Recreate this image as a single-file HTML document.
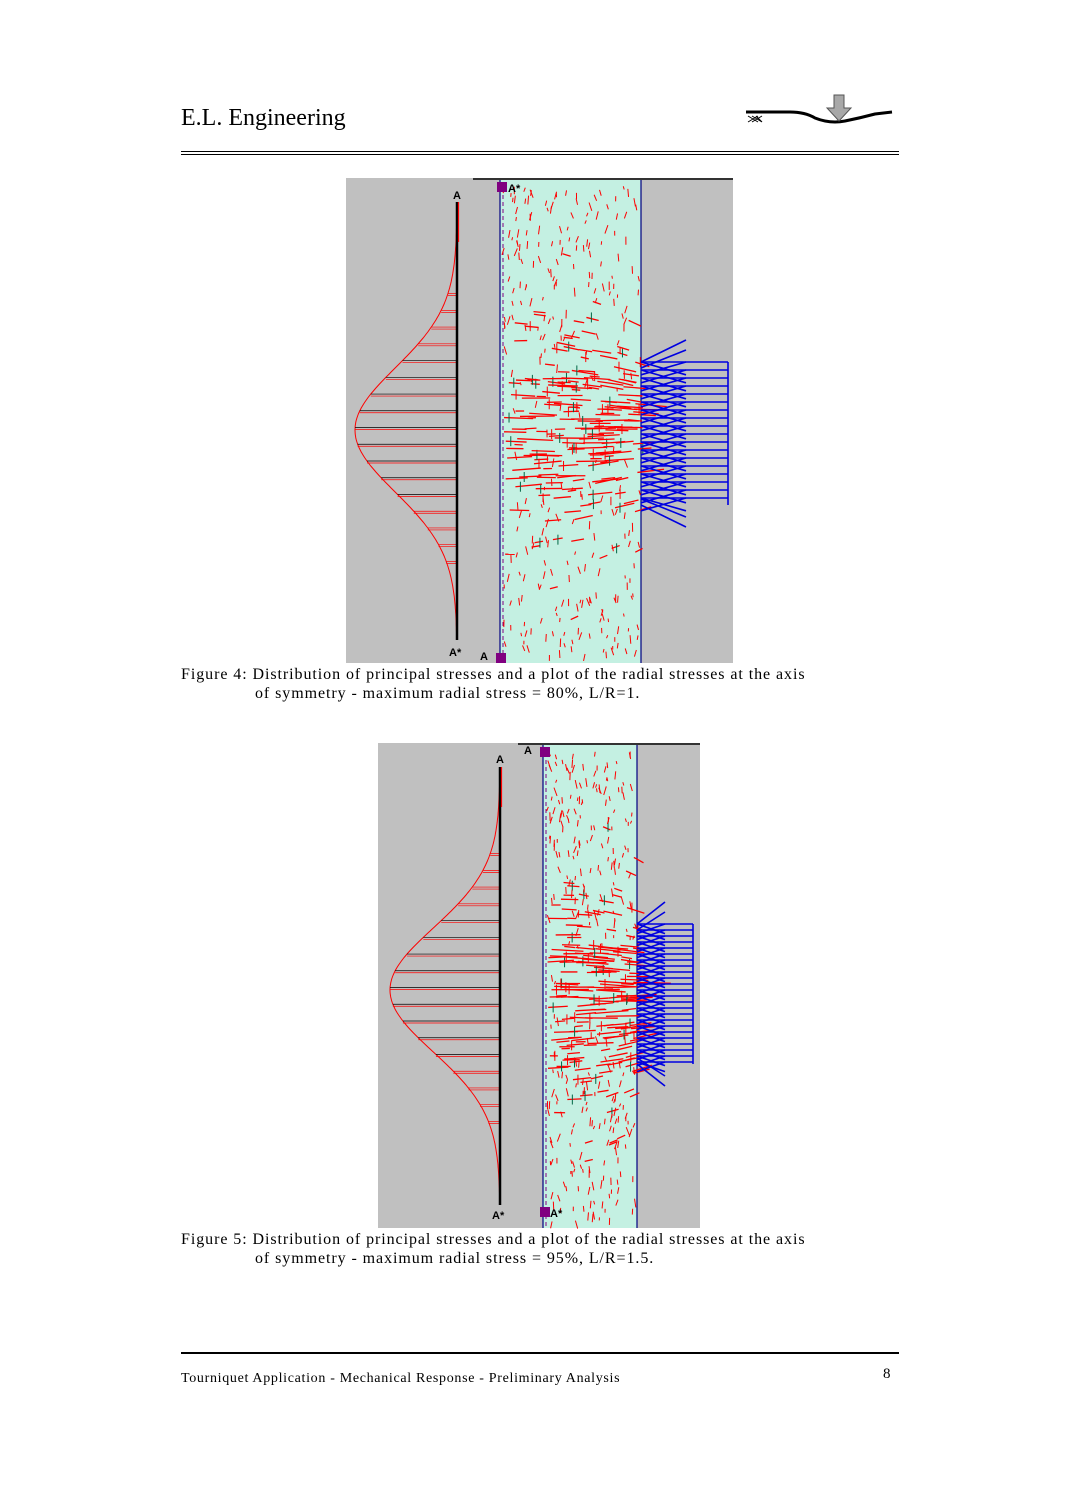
<!DOCTYPE html>
<html><head><meta charset="utf-8">
<style>
body{margin:0;background:#fff;}
#pg{position:relative;width:1079px;height:1506px;overflow:hidden;font-family:"Liberation Serif",serif;color:#000;}
.t{position:absolute;white-space:nowrap;}
.c{font-size:16px;letter-spacing:0.93px;}
svg{position:absolute;left:0;top:0;}
</style></head><body>
<div id="pg">
<div class="t" style="left:181px;top:105px;font-size:24px;">E.L. Engineering</div>
<div style="position:absolute;left:181px;top:151px;width:718px;height:1px;background:#000"></div>
<div style="position:absolute;left:181px;top:154px;width:718px;height:1px;background:#000"></div>
<div class="t c" style="left:181px;top:666px;">Figure 4: Distribution of principal stresses and a plot of the radial stresses at the axis</div>
<div class="t c" style="left:255px;top:685px;">of symmetry - maximum radial stress = 80%, L/R=1.</div>
<div class="t c" style="left:181px;top:1231px;">Figure 5: Distribution of principal stresses and a plot of the radial stresses at the axis</div>
<div class="t c" style="left:255px;top:1250px;">of symmetry - maximum radial stress = 95%, L/R=1.5.</div>
<div style="position:absolute;left:181px;top:1352px;width:718px;height:2px;background:#000"></div>
<div class="t" style="left:181px;top:1371px;font-size:14px;letter-spacing:0.68px;">Tourniquet Application - Mechanical Response - Preliminary Analysis</div>
<div class="t" style="left:883px;top:1366px;font-size:15px;">8</div>
<svg id="s" width="1079" height="1506" xmlns="http://www.w3.org/2000/svg">
<g fill="none" stroke="#000" stroke-width="3">
<path d="M746 112 L790 112 Q805 112 815 118 Q830 124 845 121 Q860 118 875 114 L892 112"/>
</g>
<g stroke="#000" stroke-width="1"><path d="M748 116l10 6M752 116l10 6M756 116l6 6M748 122l10-6M752 122l10-6"/></g>
<path d="M834 95h10v13h7l-12 13-12-13h7z" fill="#a8a8a8" stroke="#555"/>
</svg>
</div>
<script>
var s=document.getElementById('s'),NS='http://www.w3.org/2000/svg';
function el(t,a){var e=document.createElementNS(NS,t);for(var k in a)e.setAttribute(k,a[k]);s.appendChild(e);return e;}
var seed=7;function r(){seed=(seed*16807)%2147483647;return seed/2147483647;}
function fig(o){
 el('rect',{x:o.gx,y:o.gy,width:o.gw,height:o.gh,fill:'#c0c0c0'});
 el('rect',{x:o.tx,y:o.gy,width:o.tw,height:o.gh,fill:'#c4f0e2'});
 el('line',{x1:o.tx,y1:o.gy,x2:o.tx,y2:o.gy+o.gh,stroke:'#000080','stroke-width':1.2});
 el('line',{x1:o.tx+o.tw,y1:o.gy,x2:o.tx+o.tw,y2:o.gy+o.gh,stroke:'#000080','stroke-width':1.2});
 el('line',{x1:o.tx+3,y1:o.gy+10,x2:o.tx+3,y2:o.gy+o.gh,stroke:'#800080','stroke-width':1,'stroke-dasharray':'4 3'});
 el('line',{x1:o.lx,y1:o.gy+1,x2:o.gx+o.gw,y2:o.gy+1,stroke:'#333','stroke-width':2});
 var d='',ax=o.ax,amp=ax-o.px;
 for(var y=o.a1;y<=o.a2;y+=2){var x=ax-amp*Math.exp(-Math.pow((y-o.py)/o.sg,2)/2);d+=(d?'L':'M')+x.toFixed(1)+' '+y;}
 el('path',{d:d,fill:'none',stroke:'#f00','stroke-width':1});
 for(var y=o.py-4*o.sg*0.55;y<=o.py+4*o.sg*0.55;y+=o.sg*0.27){var x=ax-amp*Math.exp(-Math.pow((y-o.py)/o.sg,2)/2);
  el('line',{x1:x,y1:y,x2:ax,y2:y,stroke:(Math.abs(y-o.py)<o.sg*1.2?'#000':'#f00'),'stroke-width':0.7});
  el('line',{x1:x,y1:y+2,x2:ax,y2:y+2,stroke:'#f00','stroke-width':0.7});}
 el('line',{x1:ax,y1:o.a1,x2:ax,y2:o.a2,stroke:'#000','stroke-width':2.5});
 el('line',{x1:ax+1.5,y1:o.a1,x2:ax+1.5,y2:o.a1+40,stroke:'#f00','stroke-width':1.2});
 for(var i=0;i<o.n;i++){var x=o.tx+4+r()*(o.tw-6),y=o.gy+8+r()*(o.gh-14);
  var dy=(y-o.py)/o.sg,dens=Math.exp(-dy*dy/2);
  var len,ang,col='#f00';
  if(r()<dens*0.9){len=8+r()*30*dens;ang=dy*0.25*(x-o.tx)/o.tw+ (r()-0.5)*0.15;
   el('line',{x1:x,y1:y,x2:x+len*Math.cos(ang),y2:y-len*Math.sin(ang),stroke:col,'stroke-width':1.3});
   if(r()<0.3)el('line',{x1:x+5,y1:y-5,x2:x+5,y2:y+5,stroke:r()<0.5?'#f00':'#064','stroke-width':1});}
  else if(r()<0.6){len=3+r()*6;ang=Math.PI/2+(r()-0.5)*0.8;
   el('line',{x1:x,y1:y,x2:x+len*Math.cos(ang),y2:y+len*Math.sin(ang),stroke:col,'stroke-width':1});}}
 var bx=o.tx+o.tw,g=el('g',{stroke:'#0000e0','stroke-width':1.6,fill:'none'});
 function bl(a,b,c,e){var l=document.createElementNS(NS,'line');l.setAttribute('x1',a);l.setAttribute('y1',b);l.setAttribute('x2',c);l.setAttribute('y2',e);g.appendChild(l);}
 for(var y=o.b1;y<=o.b2;y+=o.bs){bl(bx,y,o.bz,y+o.bs*1.6);bl(bx,y+o.bs*1.6,o.bz,y);bl(bx,y,o.br,y);}
 bl(o.br,o.b1,o.br,o.b2);
 bl(bx,o.b1,o.bz,o.b1-22);bl(bx,o.b1+6,o.bz,o.b1-12);bl(bx,o.b2,o.bz,o.b2+22);bl(bx,o.b2-6,o.bz,o.b2+12);
 el('rect',{x:o.m1x,y:o.m1y,width:10,height:10,fill:'#800080'});
 el('rect',{x:o.m2x,y:o.m2y,width:10,height:10,fill:'#800080'});
 function tx(x,y,t){var e=el('text',{x:x,y:y,'font-family':'Liberation Sans,sans-serif','font-size':11,'font-weight':'bold'});e.textContent=t;}
 o.labels.forEach(function(l){tx(l[0],l[1],l[2]);});
}
fig({gx:346,gy:178,gw:387,gh:485,tx:500,tw:141,lx:473,ax:457,px:355,py:430,sg:62,a1:202,a2:640,n:700,
 b1:362,b2:505,bs:8,bz:686,br:728,m1x:497,m1y:182,m2x:496,m2y:653,
 labels:[[453,199,'A'],[508,192,'A*'],[449,656,'A*'],[480,660,'A']]});
fig({gx:378,gy:743,gw:322,gh:485,tx:543,tw:94,lx:518,ax:500,px:390,py:990,sg:62,a1:767,a2:1205,n:650,
 b1:924,b2:1064,bs:6,bz:665,br:693,m1x:540,m1y:747,m2x:540,m2y:1207,
 labels:[[496,763,'A'],[524,754,'A'],[492,1219,'A*'],[550,1217,'A*']]});
</script>
</body></html>
